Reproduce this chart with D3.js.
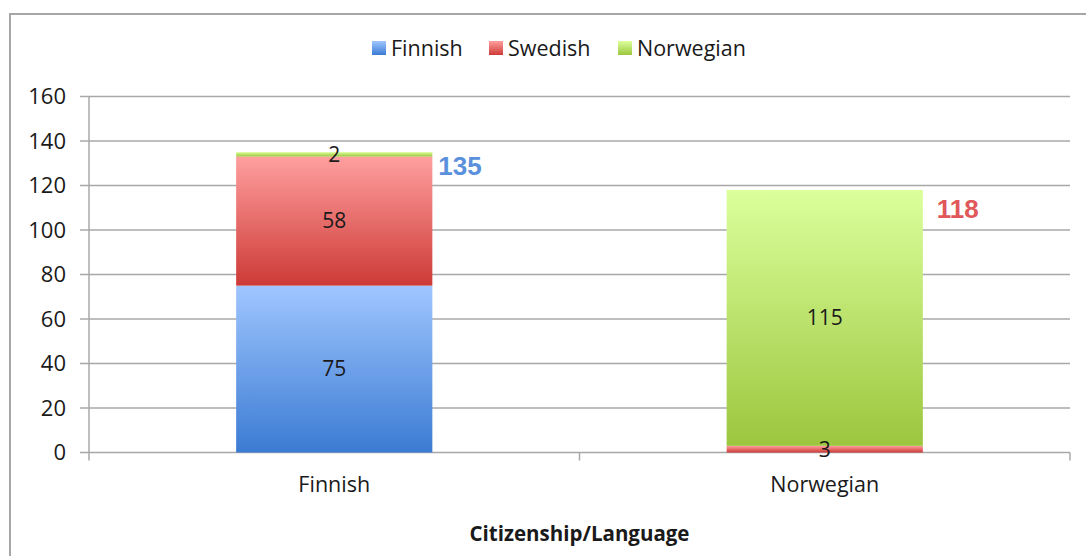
<!DOCTYPE html>
<html>
<head>
<meta charset="utf-8">
<script src="https://cdn.jsdelivr.net/npm/d3@7"></script>
<style>
  body { margin: 0; background: #fff; }
  text { font-family: "Open Sans", "Liberation Sans", sans-serif; fill: #1a1a1a; }
</style>
</head>
<body>
<div id="chart"></div>
<script>
// chart data
const categories = ["Finnish", "Norwegian"];
const seriesNames = ["Finnish", "Swedish", "Norwegian"];
const finnishValues = [75, 0];
const swedishValues = [58, 3];
const norwegianValues = [2, 115];
const totals = [135, 118];
const yTicks = [0, 20, 40, 60, 80, 100, 120, 140, 160];

const width = 1086, height = 556;
const margin = { left: 89, right: 16, top: 96.5, bottom: 103.5 };

const svg = d3.select("#chart").append("svg")
  .attr("width", width)
  .attr("height", height);

// gradients per series (light at top, dark at bottom)
const palette = {
  Finnish:   { top: "#a0c6ff", bottom: "#3b7bd3", label: "#5b90dc" },
  Swedish:   { top: "#ff9f9f", bottom: "#cd3a36", label: "#e0585a" },
  Norwegian: { top: "#dcff9c", bottom: "#9cc63e", label: "#9bc84a" }
};
const defs = svg.append("defs");
seriesNames.forEach(name => {
  const g = defs.append("linearGradient")
    .attr("id", "grad-" + name)
    .attr("x1", 0).attr("y1", 0).attr("x2", 0).attr("y2", 1);
  g.append("stop").attr("offset", "0%").attr("stop-color", palette[name].top);
  g.append("stop").attr("offset", "100%").attr("stop-color", palette[name].bottom);
});

// outer frame
svg.append("rect")
  .attr("x", 10).attr("y", 14)
  .attr("width", width + 20).attr("height", height + 20)
  .attr("fill", "none")
  .attr("stroke", "#a6a6a6")
  .attr("stroke-width", 2);

const x = d3.scaleBand()
  .domain(categories)
  .range([margin.left, width - margin.right])
  .paddingInner(0.6)
  .paddingOuter(0.3);

const xOuter = d3.scaleBand()
  .domain(categories)
  .range([margin.left, width - margin.right]);

const y = d3.scaleLinear()
  .domain([0, 160])
  .range([height - margin.bottom, margin.top]);

// gridlines
svg.append("g")
  .selectAll("line")
  .data(yTicks)
  .join("line")
  .attr("x1", margin.left - 9)
  .attr("x2", width - margin.right)
  .attr("y1", d => y(d))
  .attr("y2", d => y(d))
  .attr("stroke", "#a8a8a8")
  .attr("stroke-width", 1.5);

// y axis line + labels
svg.append("line")
  .attr("x1", margin.left).attr("x2", margin.left)
  .attr("y1", y(160)).attr("y2", y(0) + 8)
  .attr("stroke", "#a8a8a8").attr("stroke-width", 1.5);

svg.append("g")
  .selectAll("text")
  .data(yTicks)
  .join("text")
  .attr("x", 66)
  .attr("y", d => y(d))
  .attr("dy", "0.35em")
  .attr("text-anchor", "end")
  .style("font-size", "22px")
  .text(d => d);

// x axis ticks at band boundaries
const xBounds = categories.map(c => xOuter(c) + xOuter.bandwidth());
svg.append("g")
  .selectAll("line")
  .data(xBounds)
  .join("line")
  .attr("x1", d => d).attr("x2", d => d)
  .attr("y1", y(0)).attr("y2", y(0) + 8)
  .attr("stroke", "#a8a8a8").attr("stroke-width", 1.5);

svg.append("g")
  .selectAll("text")
  .data(categories)
  .join("text")
  .attr("x", d => x(d) + x.bandwidth() / 2)
  .attr("y", y(0) + 39)
  .attr("text-anchor", "middle")
  .style("font-size", "21.5px")
  .text(d => d);

svg.append("text")
  .attr("x", (margin.left + width - margin.right) / 2)
  .attr("y", 541)
  .attr("text-anchor", "middle")
  .style("font-size", "20.5px")
  .style("font-weight", "bold")
  .text("Citizenship/Language");

// stacked bars
const rows = categories.map((c, i) => ({
  category: c,
  Finnish: finnishValues[i],
  Swedish: swedishValues[i],
  Norwegian: norwegianValues[i]
}));
const stack = d3.stack().keys(seriesNames)(rows);

const layers = svg.append("g")
  .selectAll("g")
  .data(stack)
  .join("g")
  .attr("fill", d => `url(#grad-${d.key})`);

layers.selectAll("rect")
  .data(d => d)
  .join("rect")
  .attr("x", d => x(d.data.category))
  .attr("width", x.bandwidth())
  .attr("y", d => y(d[1]))
  .attr("height", d => y(d[0]) - y(d[1]));

// value labels inside segments
stack.forEach(layer => {
  svg.append("g")
    .selectAll("text")
    .data(layer.filter(d => d[1] - d[0] > 0))
    .join("text")
    .attr("x", d => x(d.data.category) + x.bandwidth() / 2)
    .attr("y", d => y((d[0] + d[1]) / 2))
    .attr("dy", "0.35em")
    .attr("text-anchor", "middle")
    .style("font-size", "21px")
    .text(d => d[1] - d[0]);
});

// totals to the right of each bar
const totalColors = [palette.Finnish.label, palette.Swedish.label];
const totalDx = [6, 14];
const totalDy = [14, 19];
svg.append("g")
  .selectAll("text")
  .data(categories)
  .join("text")
  .attr("x", (d, i) => x(d) + x.bandwidth() + totalDx[i])
  .attr("y", (d, i) => y(totals[i]) + totalDy[i])
  .attr("dy", "0.35em")
  .style("font-family", "'Liberation Sans', Arial, sans-serif")
  .style("font-size", "26px")
  .style("font-weight", "bold")
  .style("fill", (d, i) => totalColors[i])
  .text((d, i) => totals[i]);

// legend
const legendX = [372, 489, 618];
const legend = svg.append("g")
  .selectAll("g")
  .data(seriesNames)
  .join("g")
  .attr("transform", (d, i) => `translate(${legendX[i]},48)`);
legend.append("rect")
  .attr("x", 0).attr("y", -7)
  .attr("width", 14).attr("height", 14)
  .attr("fill", d => `url(#grad-${d})`);
legend.append("text")
  .attr("x", 19)
  .attr("dy", "0.35em")
  .style("font-size", "21.5px")
  .text(d => d);
</script>
</body>
</html>
